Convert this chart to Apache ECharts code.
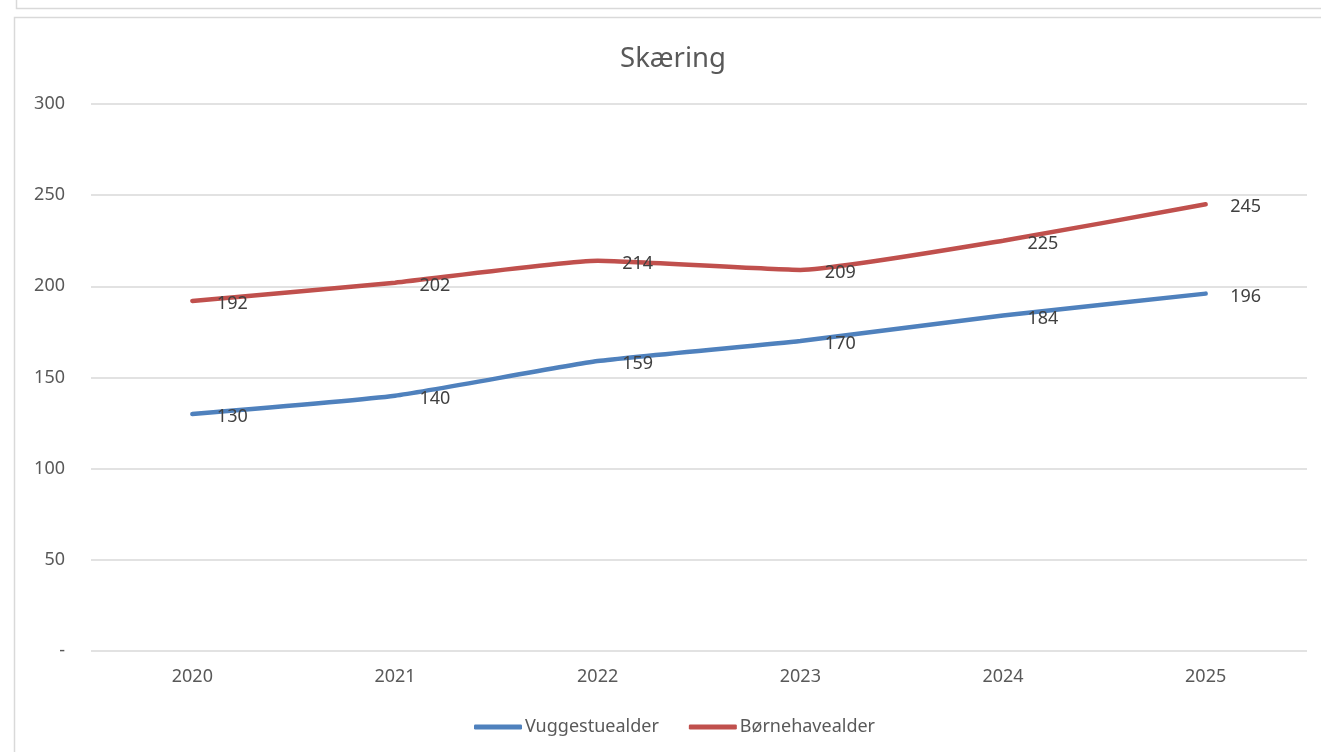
<!DOCTYPE html>
<html>
<head>
<meta charset="utf-8">
<script src="https://cdn.jsdelivr.net/npm/echarts@6/dist/echarts.min.js"></script>
<style>
  html, body { margin: 0; padding: 0; background: #fff; }
  #skaering { width: 1321px; height: 752px; }
</style>
</head>
<body>
<div id="skaering"></div>
<script>
  // data
  const years = ['2020', '2021', '2022', '2023', '2024', '2025'];
  const vuggestue = [130, 140, 159, 170, 184, 196];
  const boernehave = [192, 202, 214, 209, 225, 245];
  const yTicks = [0, 50, 100, 150, 200, 250, 300];

  const font = 'Noto Sans';
  let myChart = echarts.init(document.getElementById('skaering'));

  const label = {
    show: true,
    position: 'right',
    distance: 24,
    offset: [0, 3],
    color: '#404040',
    fontFamily: font,
    fontSize: 18
  };

  myChart.setOption({
    animation: false,
    textStyle: {fontFamily: font},
    title: {
      text: 'Skæring',
      left: 668,
      top: 40,
      textAlign: 'center',
      textStyle: {fontSize: 27.5, fontWeight: 'normal', color: '#595959', fontFamily: font}
    },
    graphic: [
      {type: 'rect', shape: {x: 14.5, y: 17.5, width: 1330, height: 760},
        style: {fill: 'none', stroke: '#d9d9d9', lineWidth: 1.5}},
      {type: 'polyline', shape: {points: [[16.5, -2], [16.5, 8.5], [1330, 8.5]]},
        style: {fill: 'none', stroke: '#d9d9d9', lineWidth: 1.5}}
    ],
    grid: {left: 91, right: 14, top: 104, bottom: 101, containLabel: false},
    xAxis: {
      type: 'category',
      data: years,
      boundaryGap: true,
      axisLine: {show: false},
      axisTick: {show: false},
      axisLabel: {color: '#595959', fontSize: 18, margin: 17, fontFamily: font}
    },
    yAxis: {
      type: 'value',
      min: yTicks[0],
      max: yTicks[yTicks.length - 1],
      interval: 50,
      axisLine: {show: false},
      axisTick: {show: false},
      splitLine: {lineStyle: {color: '#d9d9d9', width: 1.5}},
      axisLabel: {
        color: '#595959', fontSize: 18, margin: 26, fontFamily: font,
        formatter: v => (v === 0 ? '-' : String(v))
      }
    },
    legend: {
      bottom: 11,
      left: 469,
      itemWidth: 48,
      itemHeight: 5,
      itemGap: 30,
      icon: 'roundRect',
      textStyle: {color: '#595959', fontSize: 18, fontFamily: font, padding: [0, 0, 0, -2]},
      data: ['Vuggestuealder', 'Børnehavealder']
    },
    series: [
      {
        name: 'Vuggestuealder',
        type: 'line',
        data: vuggestue,
        smooth: 0.15,
        symbol: 'circle',
        symbolSize: 1,
        lineStyle: {color: '#4f81bd', width: 4.5, cap: 'round'},
        itemStyle: {color: '#4f81bd'},
        label: label
      },
      {
        name: 'Børnehavealder',
        type: 'line',
        data: boernehave,
        smooth: 0.15,
        symbol: 'circle',
        symbolSize: 1,
        lineStyle: {color: '#c0504d', width: 4.5, cap: 'round'},
        itemStyle: {color: '#c0504d'},
        label: label
      }
    ]
  });
</script>
</body>
</html>
